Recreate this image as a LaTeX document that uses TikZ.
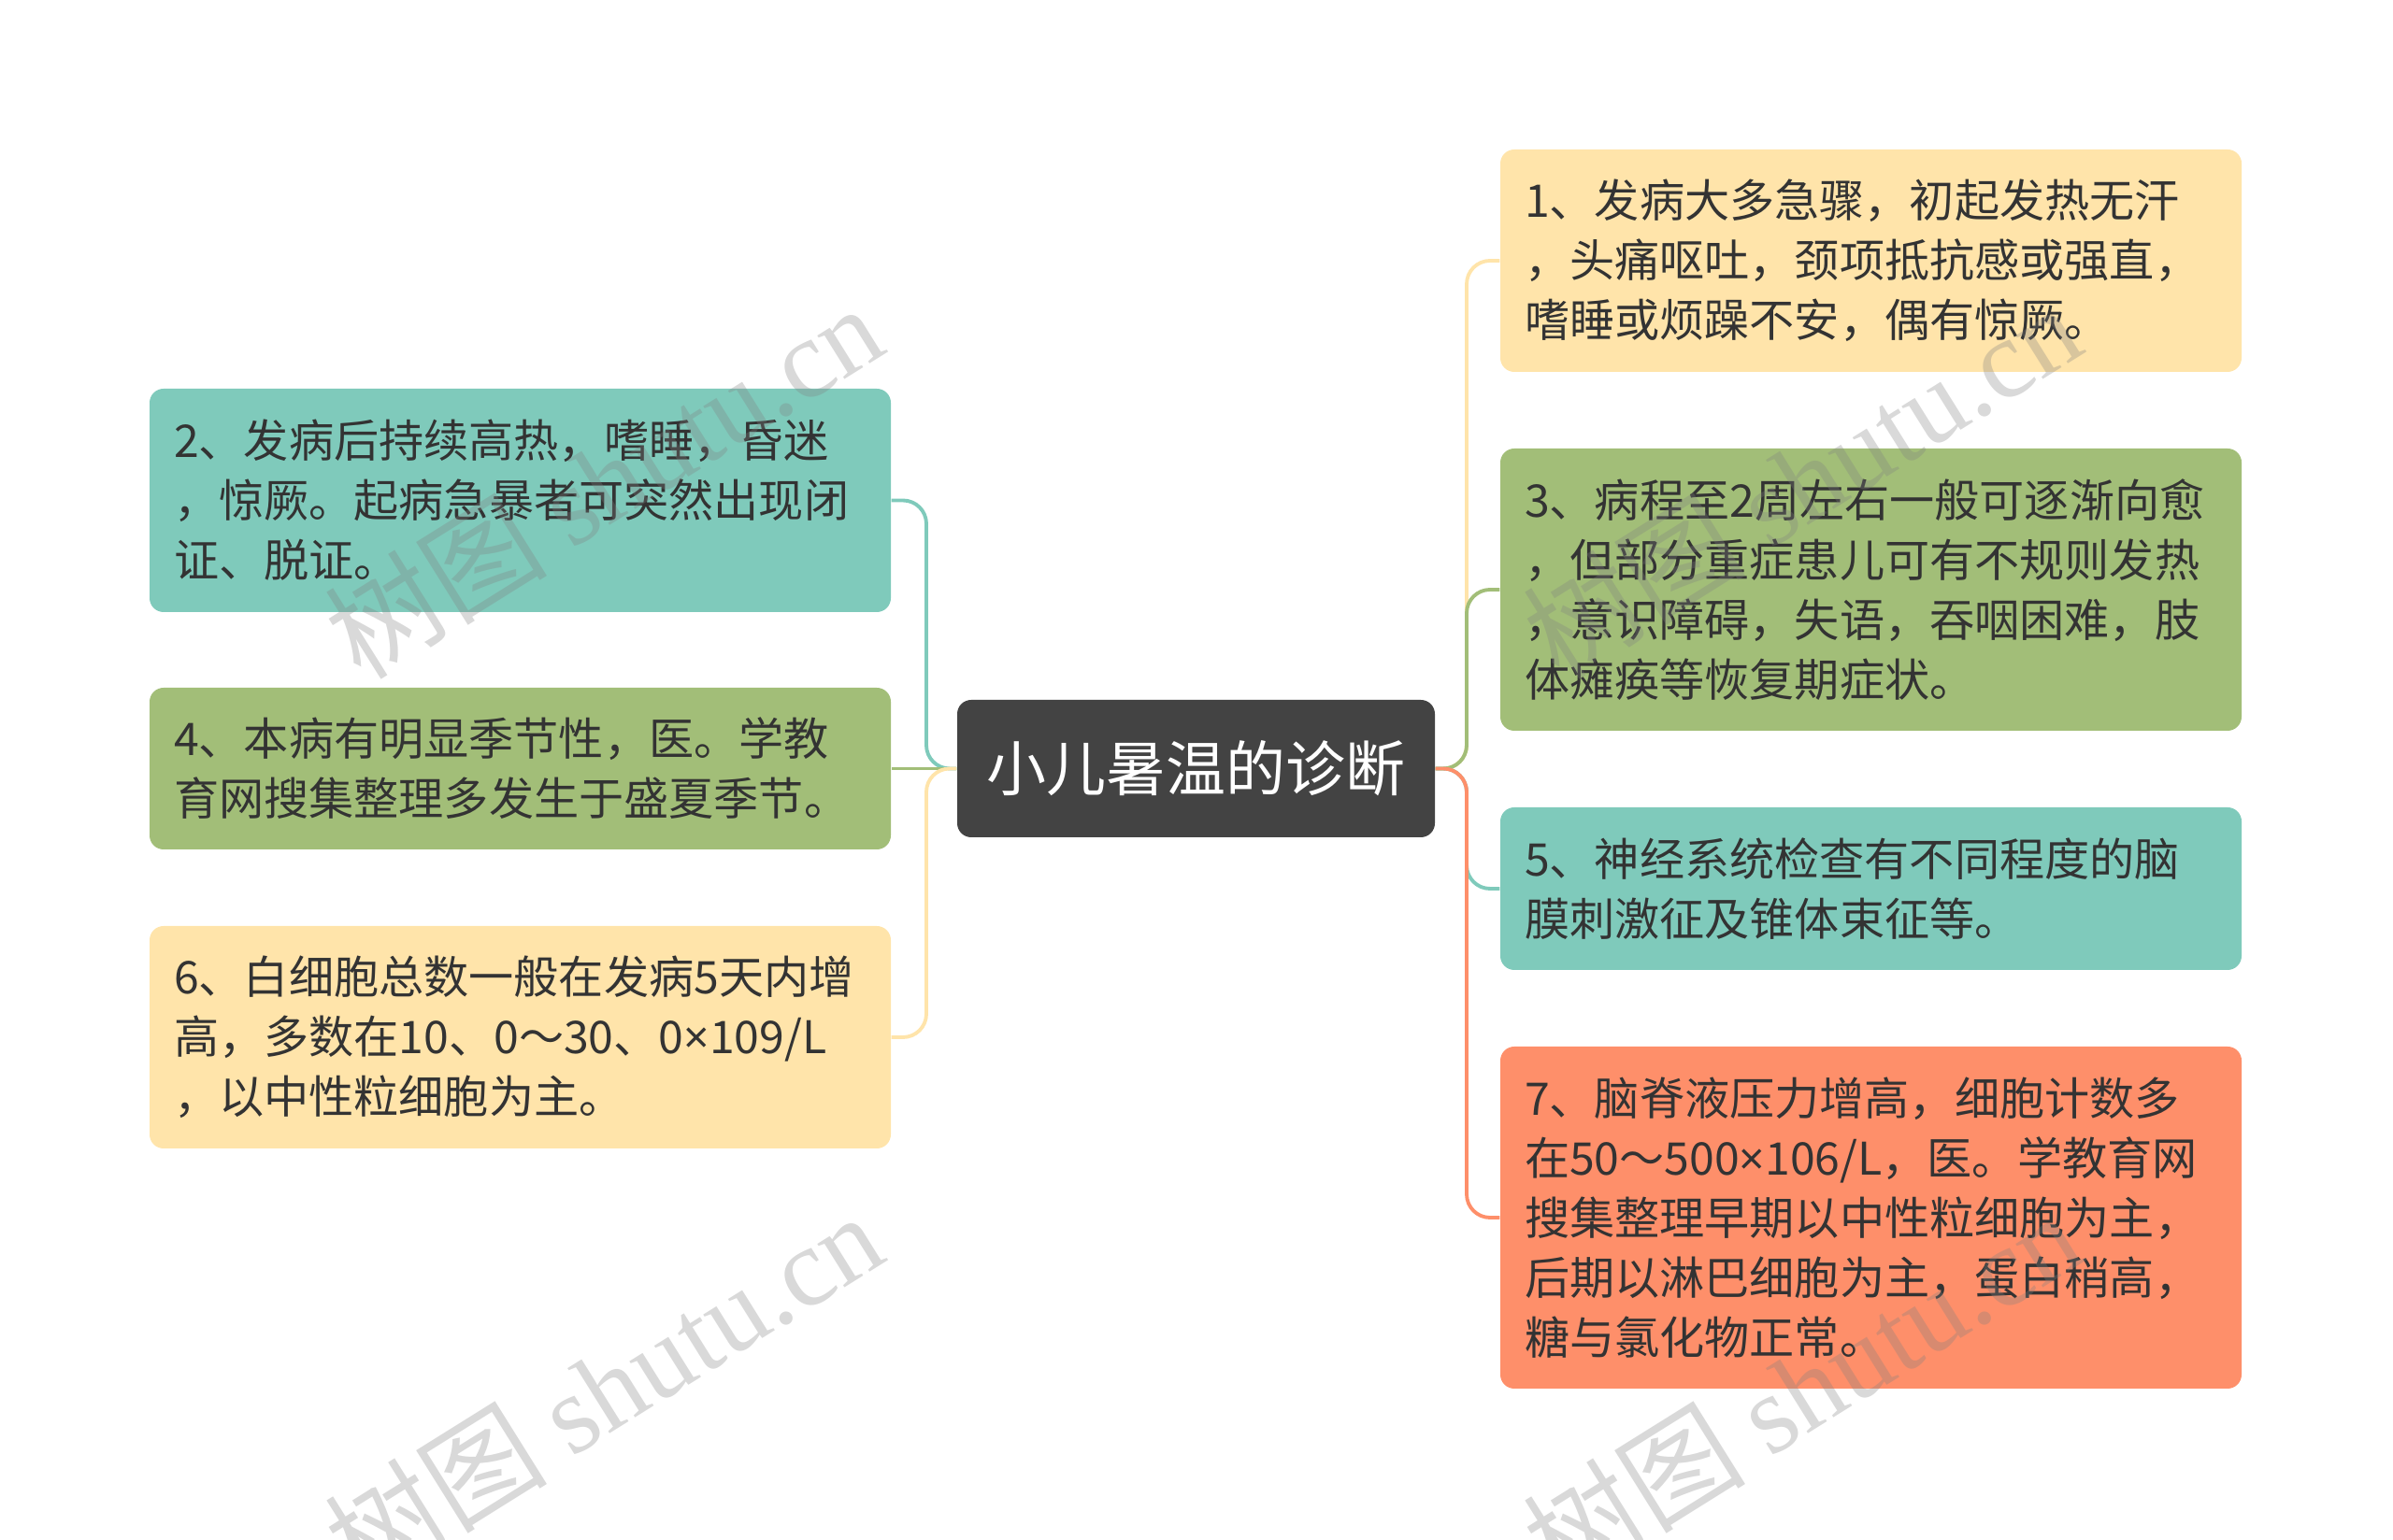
\documentclass[tikz,border=0pt]{standalone}
\usepackage{fontspec}
\setmainfont{Noto Sans CJK SC}
\newfontfamily\wmfont{Liberation Serif}
\newfontfamily\latinfont{Noto Sans}
\newcommand{\tms}{{\latinfont ×}}
\usepackage{tikz}
\usetikzlibrary{positioning, calc}
\definecolor{mint}{RGB}{127, 202, 187}
\definecolor{olive}{RGB}{162, 190, 120}
\definecolor{cream}{RGB}{255, 228, 170}
\definecolor{salmon}{RGB}{254, 143, 106}
\definecolor{slate}{RGB}{67, 67, 67}
\definecolor{ink}{RGB}{51, 51, 51}
\tikzstyle{topic} = [rectangle, rounded corners=0.15cm, text width=7.41cm, inner xsep=0.26cm, inner ysep=0pt, align=left, text=ink, font=\fontsize{13.7pt}{18.2pt}\selectfont]
\tikzstyle{root} = [rectangle, rounded corners=0.15cm, minimum width=5.11cm, minimum height=1.47cm, fill=slate, text=white, font=\fontsize{18.2pt}{22pt}\selectfont]
\tikzstyle{branch} = [line width=1.1pt, rounded corners=0.25cm]
\tikzstyle{watermark} = [gray, opacity=0.3, rotate=32, font=\fontsize{34pt}{40pt}\selectfont]

\begin{document}
\begin{tikzpicture}
    \useasboundingbox (0,0) rectangle (25.6,16.48);

    % Central topic
    \node[root] (main) at (12.795, 8.255) {小儿暑温的诊断};

    % Left topics
    \node[topic, fill=mint, minimum height=2.39cm] (t2) at (5.565, 11.125) {2、发病后持续高热，嗜睡，昏迷\\，惊厥。起病急暴者可突然出现闭\\证、脱证。};
    \node[topic, fill=olive, minimum height=1.73cm] (t4) at (5.565, 8.255) {4、本病有明显季节性，医。学教\\育网搜集整理多发生于盛夏季节。};
    \node[topic, fill=cream, minimum height=2.38cm] (t6) at (5.565, 5.38) {6、白细胞总数一般在发病5天内增\\高，多数在10、0～30、0\tms109/L\\，以中性粒细胞为主。};

    % Right topics
    \node[topic, fill=cream, minimum height=2.38cm] (t1) at (20.015, 13.69) {1、发病大多急骤，初起发热无汗\\，头痛呕吐，颈项抵抗感或强直，\\嗜睡或烦躁不安，偶有惊厥。};
    \node[topic, fill=olive, minimum height=3.02cm] (t3) at (20.015, 10.17) {3、病程至2周左右一般可逐渐向愈\\，但部分重症患儿可有不规则发热\\，意识障碍，失语，吞咽困难，肢\\体瘫痪等恢复期症状。};
    \node[topic, fill=mint, minimum height=1.74cm] (t5) at (20.015, 6.97) {5、神经系统检查有不同程度的脑\\膜刺激征及锥体束征等。};
    \node[topic, fill=salmon, minimum height=3.66cm] (t7) at (20.015, 3.45) {7、脑脊液压力增高，细胞计数多\\在50～500\tms106/L，医。学教育网\\搜集整理早期以中性粒细胞为主，\\后期以淋巴细胞为主，蛋白稍高，\\糖与氯化物正常。};

    % Branch points
    \coordinate (lfork) at (9.91, 8.255);
    \coordinate (rfork) at (15.69, 8.255);

    % Connectors
    \draw[branch, mint] (main.west) -- (lfork) |- (t2.east);
    \draw[branch, olive] (main.west) -- (t4.east);
    \draw[branch, cream] (main.west) -- (lfork) |- (t6.east);
    \draw[branch, cream] (main.east) -- (rfork) |- (t1.west);
    \draw[branch, olive] (main.east) -- (rfork) |- (t3.west);
    \draw[branch, mint] (main.east) -- (rfork) |- (t5.west);
    \draw[branch, salmon] (main.east) -- (rfork) |- (t7.west);

    % Watermarks
    \node[watermark] (wm1) at (6.45, 11.34) {树图 {\wmfont shutu.cn}};
    \node[watermark] (wm2) at (6.45, 1.62) {树图 {\wmfont shutu.cn}};
    \node[watermark] (wm3) at (19.27, 11.34) {树图 {\wmfont shutu.cn}};
    \node[watermark] (wm4) at (19.27, 1.62) {树图 {\wmfont shutu.cn}};
\end{tikzpicture}
\end{document}
